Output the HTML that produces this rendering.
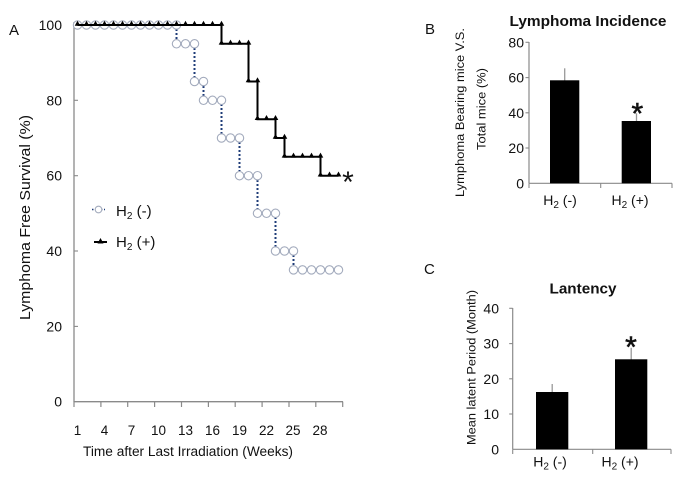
<!DOCTYPE html>
<html><head><meta charset="utf-8"><style>
html,body{margin:0;padding:0;background:#fff;}
svg{display:block;font-family:"Liberation Sans",Arial,sans-serif;}
</style></head><body>
<svg width="692" height="483" viewBox="0 0 692 483" xmlns="http://www.w3.org/2000/svg">
<rect width="692" height="483" fill="#fff"/>
<!-- ===== Panel A ===== -->
<text x="9" y="35" font-size="15" fill="#111">A</text>
<line x1="74" y1="22" x2="74" y2="402" stroke="#8a8a8a" stroke-width="1.3"/>
<line x1="74" y1="401.7" x2="343" y2="401.7" stroke="#8a8a8a" stroke-width="1.3"/>
<g stroke="#8a8a8a" stroke-width="1.1">
<line x1="74" y1="100.3" x2="78" y2="100.3"/><line x1="74" y1="175.7" x2="78" y2="175.7"/><line x1="74" y1="251" x2="78" y2="251"/><line x1="74" y1="326.4" x2="78" y2="326.4"/>
</g>
<g stroke="#8a8a8a" stroke-width="1.2">
<line x1="74" y1="401.7" x2="74" y2="407"/><line x1="100.9" y1="401.7" x2="100.9" y2="407"/><line x1="127.7" y1="401.7" x2="127.7" y2="407"/><line x1="154.6" y1="401.7" x2="154.6" y2="407"/><line x1="181.5" y1="401.7" x2="181.5" y2="407"/><line x1="208.4" y1="401.7" x2="208.4" y2="407"/><line x1="235.2" y1="401.7" x2="235.2" y2="407"/><line x1="262.1" y1="401.7" x2="262.1" y2="407"/><line x1="289" y1="401.7" x2="289" y2="407"/><line x1="315.8" y1="401.7" x2="315.8" y2="407"/><line x1="342.7" y1="401.7" x2="342.7" y2="407"/>
</g>
<g font-size="14" fill="#111" text-anchor="end">
<text x="62" y="30">100</text><text x="62" y="105.3">80</text><text x="62" y="180.7">60</text><text x="62" y="256">40</text><text x="62" y="331.4">20</text><text x="62" y="406.7">0</text>
</g>
<g font-size="13.5" fill="#111" text-anchor="middle">
<text x="77.5" y="435">1</text><text x="104.5" y="435">4</text><text x="131.5" y="435">7</text><text x="158.5" y="435">10</text><text x="185.5" y="435">13</text><text x="212.5" y="435">16</text><text x="239.5" y="435">19</text><text x="266.5" y="435">22</text><text x="293" y="435">25</text><text x="320" y="435">28</text>
</g>
<text x="188" y="456" font-size="13.5" fill="#111" text-anchor="middle" textLength="210" lengthAdjust="spacingAndGlyphs">Time after Last Irradiation (Weeks)</text>
<text transform="translate(30,217.5) rotate(-90)" font-size="15" fill="#111" text-anchor="middle" textLength="205" lengthAdjust="spacingAndGlyphs">Lymphoma  Free  Survival  (%)</text>

<g stroke="#1f3c78" stroke-width="2" stroke-dasharray="2 2">
<line x1="176.5" y1="29" x2="176.5" y2="40"/>
<line x1="194.5" y1="48" x2="194.5" y2="77"/>
<line x1="203.5" y1="86" x2="203.5" y2="96"/>
<line x1="221.5" y1="104" x2="221.5" y2="134"/>
<line x1="239.5" y1="142" x2="239.5" y2="171"/>
<line x1="257.5" y1="180" x2="257.5" y2="209"/>
<line x1="275.5" y1="217" x2="275.5" y2="247"/>
<line x1="293.5" y1="255" x2="293.5" y2="266"/>
</g>
<g fill="#fff" stroke="#a3abbd" stroke-width="1.1">
<circle cx="77.5" cy="25" r="4.2"/><circle cx="86.5" cy="25" r="4.2"/><circle cx="95.5" cy="25" r="4.2"/><circle cx="104.5" cy="25" r="4.2"/><circle cx="113.5" cy="25" r="4.2"/><circle cx="122.5" cy="25" r="4.2"/><circle cx="131.5" cy="25" r="4.2"/><circle cx="140.5" cy="25" r="4.2"/><circle cx="149.5" cy="25" r="4.2"/><circle cx="158.5" cy="25" r="4.2"/><circle cx="167.5" cy="25" r="4.2"/><circle cx="176.5" cy="25" r="4.2"/>
<circle cx="176.5" cy="43.8" r="4.2"/><circle cx="185.5" cy="43.8" r="4.2"/><circle cx="194.5" cy="43.8" r="4.2"/>
<circle cx="194.5" cy="81.5" r="4.2"/><circle cx="203.5" cy="81.5" r="4.2"/>
<circle cx="203.5" cy="100.3" r="4.2"/><circle cx="212.5" cy="100.3" r="4.2"/><circle cx="221.5" cy="100.3" r="4.2"/>
<circle cx="221.5" cy="138" r="4.2"/><circle cx="230.5" cy="138" r="4.2"/><circle cx="239.5" cy="138" r="4.2"/>
<circle cx="239.5" cy="175.7" r="4.2"/><circle cx="248.5" cy="175.7" r="4.2"/><circle cx="257.5" cy="175.7" r="4.2"/>
<circle cx="257.5" cy="213.3" r="4.2"/><circle cx="266.5" cy="213.3" r="4.2"/><circle cx="275.5" cy="213.3" r="4.2"/>
<circle cx="275.5" cy="251" r="4.2"/><circle cx="284.5" cy="251" r="4.2"/><circle cx="293.5" cy="251" r="4.2"/>
<circle cx="293.5" cy="269.9" r="4.2"/><circle cx="302.5" cy="269.9" r="4.2"/><circle cx="311.5" cy="269.9" r="4.2"/><circle cx="320.5" cy="269.9" r="4.2"/><circle cx="329.5" cy="269.9" r="4.2"/><circle cx="338.5" cy="269.9" r="4.2"/>
</g>
<path d="M77.5,25 H221.5 V43.8 H248.5 V81.5 H257.5 V119.2 H275.5 V138 H284.5 V156.8 H320.5 V175.7 H338.5" fill="none" stroke="#000" stroke-width="2"/>
<g fill="#000">
<path d="M0,-3.2 L2.8,1.8 L-2.8,1.8 Z" transform="translate(77.5,24)"/>
<path d="M0,-3.2 L2.8,1.8 L-2.8,1.8 Z" transform="translate(86.5,24)"/><path d="M0,-3.2 L2.8,1.8 L-2.8,1.8 Z" transform="translate(95.5,24)"/><path d="M0,-3.2 L2.8,1.8 L-2.8,1.8 Z" transform="translate(104.5,24)"/><path d="M0,-3.2 L2.8,1.8 L-2.8,1.8 Z" transform="translate(113.5,24)"/><path d="M0,-3.2 L2.8,1.8 L-2.8,1.8 Z" transform="translate(122.5,24)"/><path d="M0,-3.2 L2.8,1.8 L-2.8,1.8 Z" transform="translate(131.5,24)"/><path d="M0,-3.2 L2.8,1.8 L-2.8,1.8 Z" transform="translate(140.5,24)"/><path d="M0,-3.2 L2.8,1.8 L-2.8,1.8 Z" transform="translate(149.5,24)"/><path d="M0,-3.2 L2.8,1.8 L-2.8,1.8 Z" transform="translate(158.5,24)"/><path d="M0,-3.2 L2.8,1.8 L-2.8,1.8 Z" transform="translate(167.5,24)"/><path d="M0,-3.2 L2.8,1.8 L-2.8,1.8 Z" transform="translate(176.5,24)"/><path d="M0,-3.2 L2.8,1.8 L-2.8,1.8 Z" transform="translate(185.5,24)"/><path d="M0,-3.2 L2.8,1.8 L-2.8,1.8 Z" transform="translate(194.5,24)"/><path d="M0,-3.2 L2.8,1.8 L-2.8,1.8 Z" transform="translate(203.5,24)"/><path d="M0,-3.2 L2.8,1.8 L-2.8,1.8 Z" transform="translate(212.5,24)"/><path d="M0,-3.2 L2.8,1.8 L-2.8,1.8 Z" transform="translate(221.5,24)"/>
<path d="M0,-3.2 L2.8,1.8 L-2.8,1.8 Z" transform="translate(221.5,42.8)"/><path d="M0,-3.2 L2.8,1.8 L-2.8,1.8 Z" transform="translate(230.5,42.8)"/><path d="M0,-3.2 L2.8,1.8 L-2.8,1.8 Z" transform="translate(239.5,42.8)"/><path d="M0,-3.2 L2.8,1.8 L-2.8,1.8 Z" transform="translate(248.5,42.8)"/>
<path d="M0,-3.2 L2.8,1.8 L-2.8,1.8 Z" transform="translate(248.5,80.5)"/><path d="M0,-3.2 L2.8,1.8 L-2.8,1.8 Z" transform="translate(257.5,80.5)"/>
<path d="M0,-3.2 L2.8,1.8 L-2.8,1.8 Z" transform="translate(257.5,118.2)"/><path d="M0,-3.2 L2.8,1.8 L-2.8,1.8 Z" transform="translate(266.5,118.2)"/><path d="M0,-3.2 L2.8,1.8 L-2.8,1.8 Z" transform="translate(275.5,118.2)"/>
<path d="M0,-3.2 L2.8,1.8 L-2.8,1.8 Z" transform="translate(275.5,137)"/><path d="M0,-3.2 L2.8,1.8 L-2.8,1.8 Z" transform="translate(284.5,137)"/>
<path d="M0,-3.2 L2.8,1.8 L-2.8,1.8 Z" transform="translate(284.5,155.8)"/><path d="M0,-3.2 L2.8,1.8 L-2.8,1.8 Z" transform="translate(293.5,155.8)"/><path d="M0,-3.2 L2.8,1.8 L-2.8,1.8 Z" transform="translate(302.5,155.8)"/><path d="M0,-3.2 L2.8,1.8 L-2.8,1.8 Z" transform="translate(311.5,155.8)"/><path d="M0,-3.2 L2.8,1.8 L-2.8,1.8 Z" transform="translate(320.5,155.8)"/>
<path d="M0,-3.2 L2.8,1.8 L-2.8,1.8 Z" transform="translate(320.5,174.7)"/><path d="M0,-3.2 L2.8,1.8 L-2.8,1.8 Z" transform="translate(329.5,174.7)"/><path d="M0,-3.2 L2.8,1.8 L-2.8,1.8 Z" transform="translate(338.5,174.7)"/>
</g>
<text x="348" y="192" font-size="30" fill="#111" text-anchor="middle">*</text>
<line x1="92" y1="209.5" x2="105" y2="209.5" stroke="#1f3c78" stroke-width="1.5" stroke-dasharray="1.5 1.5"/>
<circle cx="98.5" cy="209.5" r="3.3" fill="#fff" stroke="#a3abbd" stroke-width="1.1"/>
<text x="116" y="216" font-size="15" fill="#111">H<tspan font-size="10" dy="3">2</tspan><tspan dy="-3"> (-)</tspan></text>
<line x1="94" y1="242" x2="107" y2="242" stroke="#000" stroke-width="2"/>
<path d="M0,-3.5 L3,2 L-3,2 Z" transform="translate(100.5,241.5)" fill="#000"/>
<text x="116" y="247" font-size="15" fill="#111">H<tspan font-size="10" dy="3">2</tspan><tspan dy="-3"> (+)</tspan></text>

<!-- ===== Panel B ===== -->
<text x="425" y="34" font-size="15" fill="#111">B</text>
<text x="588" y="26" font-size="15" font-weight="bold" fill="#111" text-anchor="middle" textLength="157" lengthAdjust="spacingAndGlyphs">Lymphoma Incidence</text>
<line x1="529" y1="42" x2="529" y2="183.3" stroke="#8a8a8a" stroke-width="1.2"/>
<line x1="529" y1="183.3" x2="672" y2="183.3" stroke="#8a8a8a" stroke-width="1.2"/>
<g stroke="#8a8a8a" stroke-width="1.1">
<line x1="525.5" y1="42.3" x2="529" y2="42.3"/><line x1="525.5" y1="77.6" x2="529" y2="77.6"/><line x1="525.5" y1="112.8" x2="529" y2="112.8"/><line x1="525.5" y1="148" x2="529" y2="148"/>
<line x1="529" y1="183.3" x2="529" y2="188"/><line x1="600.7" y1="183.3" x2="600.7" y2="188"/><line x1="672" y1="183.3" x2="672" y2="188"/>
</g>
<g font-size="14" fill="#111" text-anchor="end">
<text x="524" y="47.3">80</text><text x="524" y="82.6">60</text><text x="524" y="117.8">40</text><text x="524" y="153">20</text><text x="524" y="188.3">0</text>
</g>
<line x1="564.7" y1="68.3" x2="564.7" y2="81" stroke="#999" stroke-width="1.3"/>
<line x1="636.5" y1="113.3" x2="636.5" y2="122" stroke="#999" stroke-width="1.3"/>
<rect x="550" y="80.3" width="29.3" height="103" fill="#000"/>
<rect x="621.7" y="121" width="29.3" height="62.3" fill="#000"/>
<text x="637.3" y="123.5" font-size="30" fill="#111" stroke="#111" stroke-width="0.6" text-anchor="middle">*</text>
<text x="560" y="205" font-size="14" fill="#111" text-anchor="middle">H<tspan font-size="10" dy="3">2</tspan><tspan dy="-3"> (-)</tspan></text>
<text x="630" y="205" font-size="14" fill="#111" text-anchor="middle">H<tspan font-size="10" dy="3">2</tspan><tspan dy="-3"> (+)</tspan></text>
<text transform="translate(464,112.5) rotate(-90)" font-size="11.5" fill="#111" text-anchor="middle" textLength="169" lengthAdjust="spacingAndGlyphs">Lymphoma  Bearing mice V.S.</text>
<text transform="translate(485.5,109) rotate(-90)" font-size="11.5" fill="#111" text-anchor="middle" textLength="82" lengthAdjust="spacingAndGlyphs">Total mice (%)</text>

<!-- ===== Panel C ===== -->
<text x="424" y="274" font-size="15" fill="#111">C</text>
<text x="583" y="293.3" font-size="15" font-weight="bold" fill="#111" text-anchor="middle" textLength="67" lengthAdjust="spacingAndGlyphs">Lantency</text>
<line x1="512.7" y1="308" x2="512.7" y2="449.3" stroke="#8a8a8a" stroke-width="1.2"/>
<line x1="512.7" y1="449.3" x2="671" y2="449.3" stroke="#8a8a8a" stroke-width="1.2"/>
<g stroke="#8a8a8a" stroke-width="1.1">
<line x1="509.2" y1="308.3" x2="512.7" y2="308.3"/><line x1="509.2" y1="343.6" x2="512.7" y2="343.6"/><line x1="509.2" y1="378.8" x2="512.7" y2="378.8"/><line x1="509.2" y1="414" x2="512.7" y2="414"/>
<line x1="512.7" y1="449.3" x2="512.7" y2="454"/><line x1="592.7" y1="449.3" x2="592.7" y2="454"/><line x1="671" y1="449.3" x2="671" y2="454"/>
</g>
<g font-size="14" fill="#111" text-anchor="end">
<text x="499" y="313.3">40</text><text x="499" y="348.6">30</text><text x="499" y="383.8">20</text><text x="499" y="419">10</text><text x="499" y="454.3">0</text>
</g>
<line x1="552.2" y1="384" x2="552.2" y2="393" stroke="#999" stroke-width="1.3"/>
<line x1="631.2" y1="347.8" x2="631.2" y2="361" stroke="#999" stroke-width="1.3"/>
<rect x="536" y="392" width="32.3" height="57.3" fill="#000"/>
<rect x="615" y="359.3" width="32.3" height="90" fill="#000"/>
<text x="631" y="357" font-size="30" fill="#111" stroke="#111" stroke-width="0.6" text-anchor="middle">*</text>
<text x="550" y="466.7" font-size="14" fill="#111" text-anchor="middle">H<tspan font-size="10" dy="3">2</tspan><tspan dy="-3"> (-)</tspan></text>
<text x="620" y="466.7" font-size="14" fill="#111" text-anchor="middle">H<tspan font-size="10" dy="3">2</tspan><tspan dy="-3"> (+)</tspan></text>
<text transform="translate(475.5,367.5) rotate(-90)" font-size="11.5" fill="#111" text-anchor="middle" textLength="155" lengthAdjust="spacingAndGlyphs">Mean latent Period (Month)</text>
</svg>
</body></html>
